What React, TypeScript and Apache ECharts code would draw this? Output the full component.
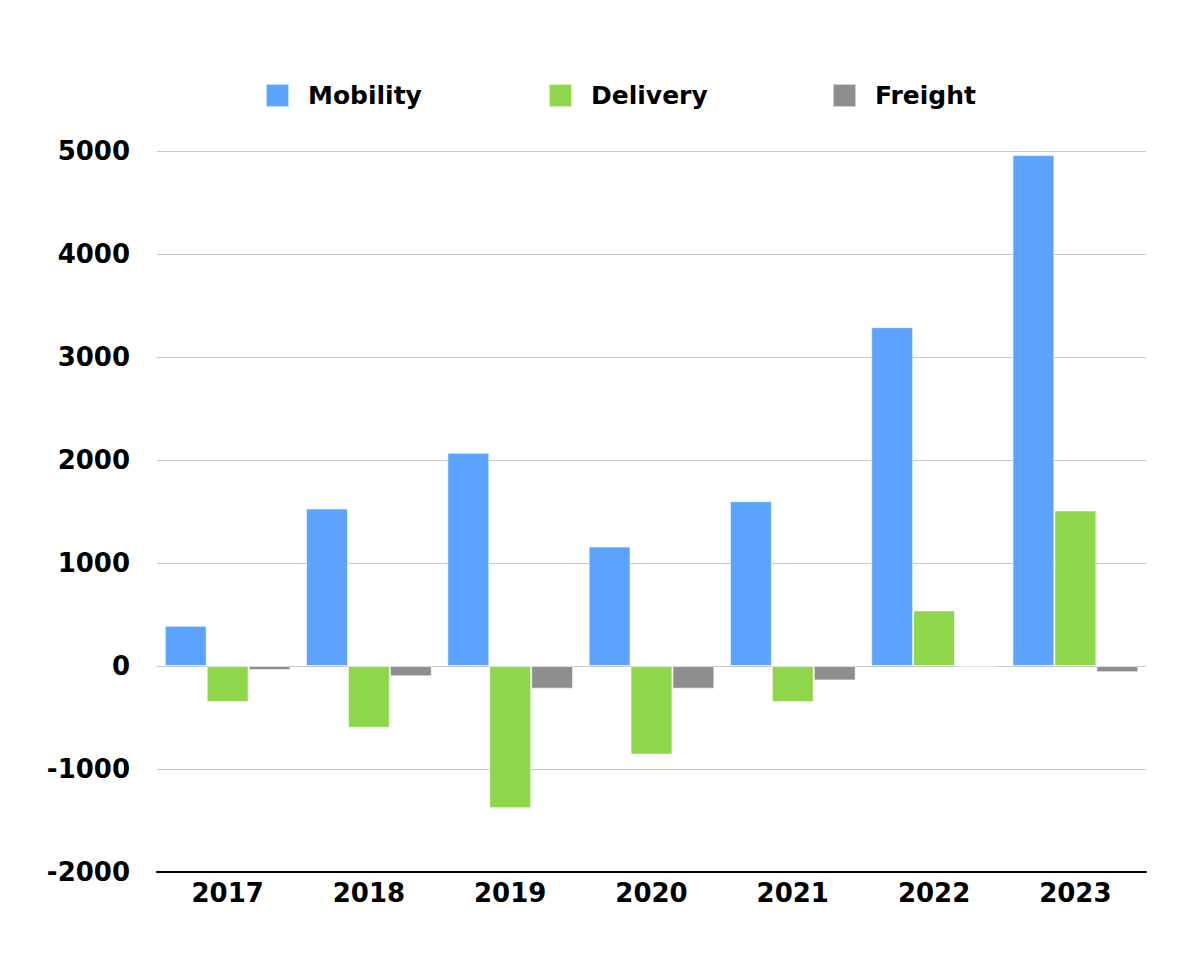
import React, { useEffect, useRef } from "react";
import * as echarts from "echarts";

const years = ["2017", "2018", "2019", "2020", "2021", "2022", "2023"];
const mobility = [390, 1530, 2070, 1160, 1600, 3290, 4960];
const delivery = [-350, -600, -1380, -860, -350, 540, 1510];
const freight = [-40, -100, -220, -220, -140, 0, -60];
const seriesNames = ["Mobility", "Delivery", "Freight"];
const colors = ["#5BA3FF", "#8FD64B", "#8E8E8E"];
const yTicks = { min: -2000, max: 5000, interval: 1000 };

const FONT = "'DejaVu Sans', sans-serif";

export default function App() {
  const ref = useRef<HTMLDivElement>(null);
  useEffect(() => {
    if (!ref.current) return;
    const chart = echarts.init(ref.current, undefined, { renderer: "svg" });
    const values = [mobility, delivery, freight];
    const legendLefts = [260, 543, 827];
    chart.setOption({
      animation: false,
      backgroundColor: "#ffffff",
      legend: seriesNames.map((n, i) => ({
        data: [n],
        left: legendLefts[i],
        top: 78,
        icon: "rect",
        itemWidth: 23,
        itemHeight: 23,
        itemGap: 0,
        textStyle: { fontFamily: FONT, fontSize: 25, fontWeight: "bold", color: "#000", padding: [0, 0, 0, 14] },
      })),
      grid: { left: 157, right: 54, top: 151, bottom: 85, containLabel: false },
      xAxis: {
        type: "category",
        data: years,
        axisLine: { onZero: false, lineStyle: { color: "#000", width: 2 } },
        axisTick: { show: false },
        axisLabel: { fontFamily: FONT, fontSize: 26, fontWeight: "bold", color: "#000", margin: 8 },
      },
      yAxis: {
        type: "value",
        min: yTicks.min,
        max: yTicks.max,
        interval: yTicks.interval,
        axisLine: { show: false },
        axisTick: { show: false },
        axisLabel: {
          fontFamily: FONT,
          fontSize: 26,
          fontWeight: "bold",
          color: "#000",
          margin: 27,
          formatter: (v: number) => String(v),
        },
        splitLine: { lineStyle: { color: "#C8C8C8", width: 1 } },
      },
      series: seriesNames.map((n, i) => ({
        name: n,
        type: "bar",
        data: values[i],
        barGap: "0%",
        barCategoryGap: "11%",
        itemStyle: { color: colors[i], borderColor: "rgba(255,255,255,0.6)", borderWidth: 1 },
      })),
    });
    return () => chart.dispose();
  }, []);
  return <div ref={ref} style={{ width: 1200, height: 957, margin: -8 }} />;
}
